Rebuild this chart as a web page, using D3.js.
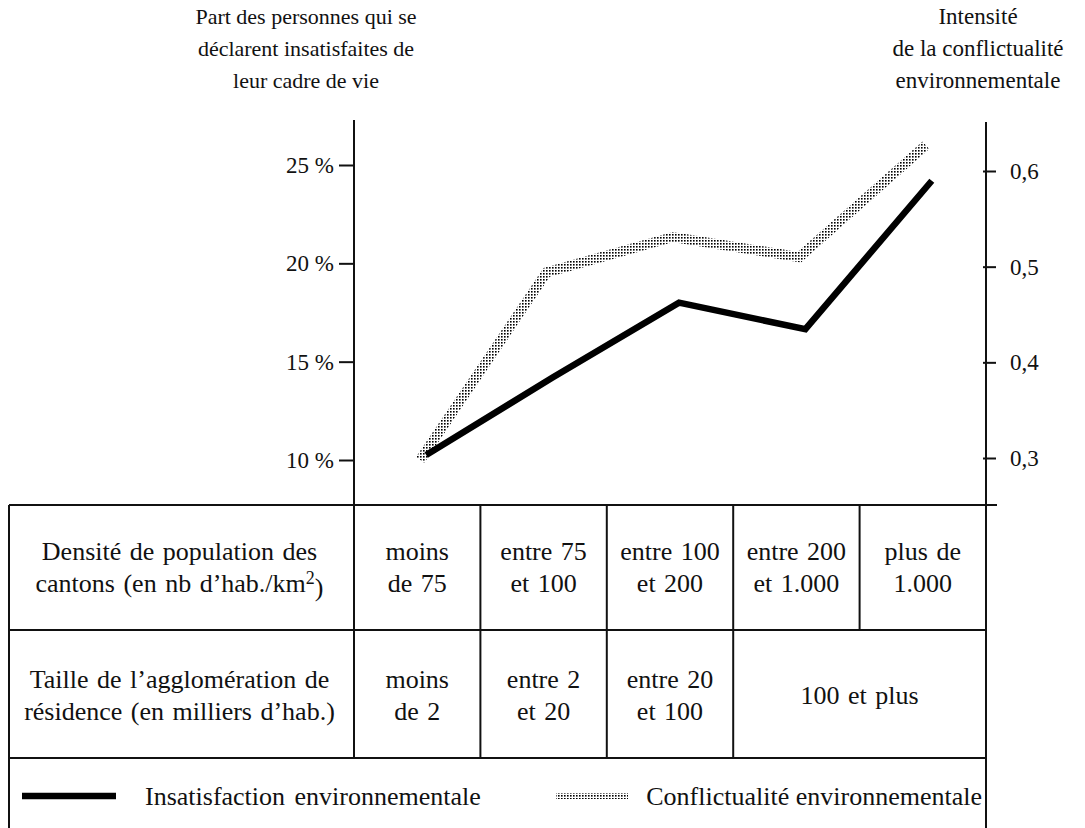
<!DOCTYPE html>
<html lang="fr">
<head>
<meta charset="utf-8">
<script src="https://cdn.jsdelivr.net/npm/d3@7"></script>
<style>
  html, body { margin: 0; padding: 0; background: #fff; }
  svg { display: block; }
</style>
</head>
<body>
<svg id="chart" width="1085" height="828"></svg>
<script>
// Density classes of the cantons (one column per class)
const densityClasses = [
  ["moins", "de 75"],
  ["entre 75", "et 100"],
  ["entre 100", "et 200"],
  ["entre 200", "et 1.000"],
  ["plus de", "1.000"]
];
// Agglomeration size classes (the last one spans two columns)
const sizeClasses = [
  { lines: ["moins", "de 2"], span: 1 },
  { lines: ["entre 2", "et 20"], span: 1 },
  { lines: ["entre 20", "et 100"], span: 1 },
  { lines: ["100 et plus"], span: 2 }
];
// Share of people dissatisfied with their living environment (%)
const insatisfaction = [10.25, 14.2, 18.0, 16.65, 24.2];
// Intensity of environmental conflict (index)
const conflictualite = [0.298, 0.494, 0.531, 0.510, 0.627];

const leftTicks = [10, 15, 20, 25];
const rightTicks = [0.3, 0.4, 0.5, 0.6];

const leftTitle = ["Part des personnes qui se", "déclarent insatisfaites de", "leur cadre de vie"];
const rightTitle = ["Intensité", "de la conflictualité", "environnementale"];
const rowLabels = [
  ["Densité de population des", "cantons (en nb d\u2019hab./km"],
  ["Taille de l\u2019agglomération de", "résidence (en milliers d\u2019hab.)"]
];
const legendLabels = ["Insatisfaction environnementale", "Conflictualité environnementale"];

const FONT = "'Liberation Serif', 'DejaVu Serif', serif";
const INK = "#111";

const svg = d3.select("#chart");

// Layout
const tableLeft = 9, axisL = 354, axisR = 986;
const tableTop = 505, row1Bottom = 630, row2Bottom = 758, tableBottom = 828;
const plotTop = 120;

// Halftone dot pattern for the conflict series
const defs = svg.append("defs");
const pat = defs.append("pattern")
  .attr("id", "dots").attr("patternUnits", "userSpaceOnUse")
  .attr("width", 3).attr("height", 3);
pat.append("rect").attr("width", 3).attr("height", 3).attr("fill", "#fff");
pat.append("rect").attr("x", 0).attr("y", 0).attr("width", 1.6).attr("height", 1.6).attr("fill", "#000");

// Scales
const x = d3.scaleBand().domain(d3.range(densityClasses.length)).range([axisL, axisR]);
const yL = d3.scaleLinear().domain([10, 25]).range([460, 165]);
const yR = d3.scaleLinear().domain([0.3, 0.6]).range([458, 171]);

function styled(sel, fs) {
  return sel.style("font-family", FONT).style("font-size", fs + "px").style("fill", INK);
}

// Axis titles
[[leftTitle, 306, 22], [rightTitle, 978, 23]].forEach(([lines, cx, fs]) => {
  styled(svg.append("text").attr("text-anchor", "middle"), fs)
    .selectAll("tspan").data(lines).join("tspan")
    .attr("x", cx).attr("y", (d, i) => 24 + i * 32).text(d => d);
});

// Left axis
const gL = svg.append("g").attr("transform", `translate(${axisL},0)`)
  .call(d3.axisLeft(yL).tickValues(leftTicks).tickSize(15).tickPadding(5)
    .tickFormat(d => d + " %"));
gL.select(".domain").remove();
gL.selectAll(".tick line").attr("stroke", INK).attr("stroke-width", 2);
styled(gL.selectAll(".tick text"), 23);

// Right axis
const gR = svg.append("g").attr("transform", `translate(${axisR},0)`)
  .call(d3.axisRight(yR).tickValues(rightTicks).tickSize(10).tickPadding(14)
    .tickFormat(d => d3.format(".1f")(d).replace(".", ",")));
gR.select(".domain").remove();
gR.selectAll(".tick line").attr("x1", -3).attr("stroke", INK).attr("stroke-width", 2);
styled(gR.selectAll(".tick text"), 23);

// Axis lines (continuing down as table borders)
svg.append("line").attr("x1", axisL).attr("x2", axisL).attr("y1", plotTop).attr("y2", row2Bottom)
  .attr("stroke", INK).attr("stroke-width", 2);
svg.append("line").attr("x1", axisR).attr("x2", axisR).attr("y1", plotTop + 2).attr("y2", tableBottom)
  .attr("stroke", INK).attr("stroke-width", 2);

// Series lines
const xPt = (i, dx) => x(i) + x.bandwidth() / 2 + dx;
svg.append("path").datum(conflictualite)
  .attr("fill", "none").attr("stroke", "url(#dots)").attr("stroke-width", 10)
  .attr("stroke-linejoin", "miter")
  .attr("d", d3.line().x((d, i) => xPt(i, 3)).y(d => yR(d)));
svg.append("path").datum(insatisfaction)
  .attr("fill", "none").attr("stroke", "#000").attr("stroke-width", 6.5)
  .attr("stroke-linejoin", "miter")
  .attr("d", d3.line().x((d, i) => xPt(i, 9)).y(d => yL(d)));

// Table grid
const grid = svg.append("g").attr("stroke", INK).attr("stroke-width", 2);
grid.append("line").attr("x1", tableLeft).attr("x2", axisR + 11).attr("y1", tableTop).attr("y2", tableTop);
grid.append("line").attr("x1", tableLeft).attr("x2", axisR).attr("y1", row1Bottom).attr("y2", row1Bottom);
grid.append("line").attr("x1", tableLeft).attr("x2", axisR).attr("y1", row2Bottom).attr("y2", row2Bottom);
grid.append("line").attr("x1", tableLeft).attr("x2", tableLeft).attr("y1", tableTop).attr("y2", tableBottom);
d3.range(1, densityClasses.length).forEach(i => {
  grid.append("line").attr("x1", x(i)).attr("x2", x(i)).attr("y1", tableTop).attr("y2", row1Bottom);
});
let acc = 0;
sizeClasses.forEach(c => {
  acc += c.span;
  if (acc < densityClasses.length) {
    grid.append("line").attr("x1", x(acc)).attr("x2", x(acc)).attr("y1", row1Bottom).attr("y2", row2Bottom);
  }
});

const fsTable = 26;
// Multi-line centred cell text
function cellText(cx, cy, lines, fs) {
  const lh = 32;
  const t = styled(svg.append("text").attr("text-anchor", "middle"), fs)
    .style("word-spacing", "2px");
  lines.forEach((l, i) => {
    t.append("tspan").attr("x", cx).attr("y", cy + (i - (lines.length - 1) / 2) * lh).attr("dy", "0.35em").text(l);
  });
  return t;
}
const labelCx = (tableLeft + axisL) / 2 - 2;
const r1 = cellText(labelCx, 567, rowLabels[0], fsTable);
// superscript 2 of km²
r1.select("tspan:last-child").append("tspan").attr("dy", "-0.45em").style("font-size", "18px").text("2");
r1.append("tspan").attr("dy", "0.45em").text(")");
cellText(labelCx, 695, rowLabels[1], fsTable);

densityClasses.forEach((lines, i) => {
  cellText(x(i) + x.bandwidth() / 2, 567, lines, fsTable);
});
acc = 0;
sizeClasses.forEach(c => {
  const cx = x(acc) + (x.bandwidth() * c.span) / 2;
  cellText(cx, 695, c.lines, fsTable);
  acc += c.span;
});

// Legend row
const ly = 796;
svg.append("line").attr("x1", 22).attr("x2", 116).attr("y1", ly).attr("y2", ly)
  .attr("stroke", "#000").attr("stroke-width", 6.5);
styled(svg.append("text").attr("x", 145).attr("y", ly).attr("dy", "0.35em"), fsTable)
  .style("word-spacing", "3px").text(legendLabels[0]);
svg.append("rect").attr("x", 556).attr("y", ly - 3).attr("width", 72).attr("height", 6)
  .attr("fill", "url(#dots)");
styled(svg.append("text").attr("x", 982).attr("y", ly).attr("dy", "0.35em").attr("text-anchor", "end"), fsTable)
  .text(legendLabels[1]);
</script>
</body>
</html>
